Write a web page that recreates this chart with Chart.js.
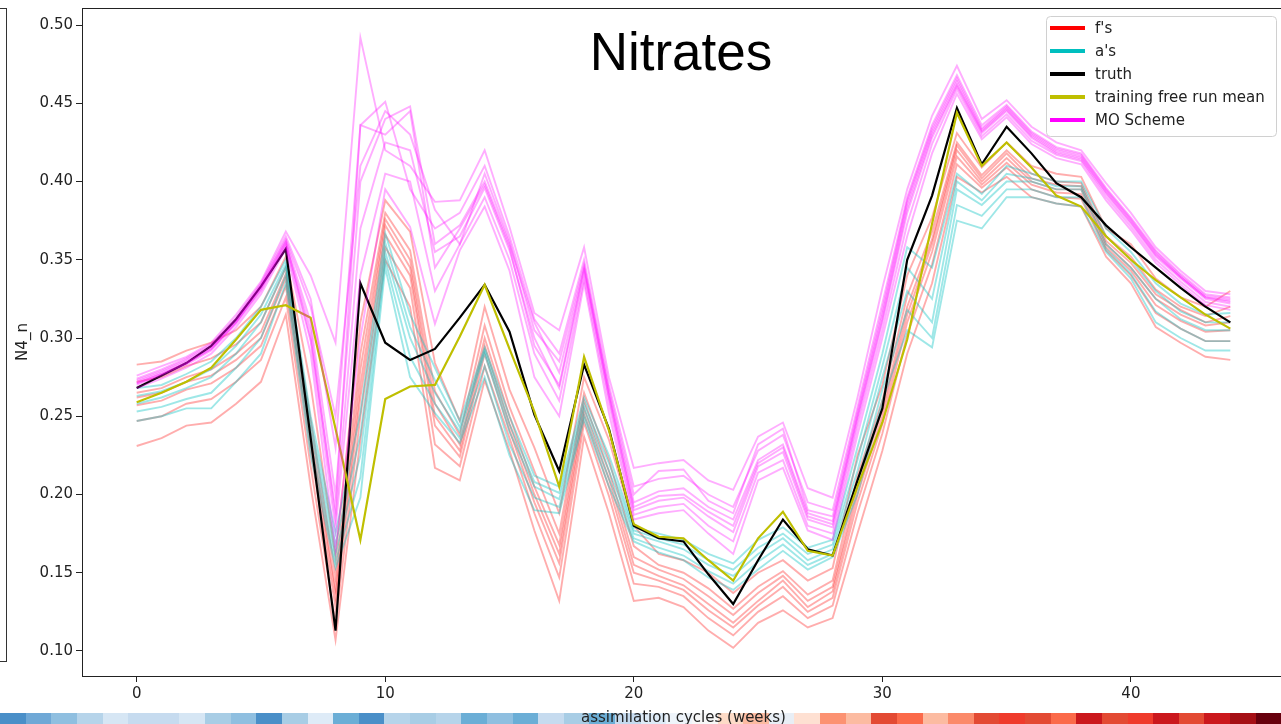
<!DOCTYPE html>
<html>
<head>
<meta charset="utf-8">
<title>Nitrates</title>
<script src="https://cdn.jsdelivr.net/npm/chart.js@4.4.1/dist/chart.umd.min.js"></script>
<style>
  html, body { margin: 0; padding: 0; background: #fff; overflow: hidden; }
  #wrap { position: relative; width: 1281px; height: 724px; overflow: hidden; }
  #strip { position: absolute; left: 0; top: 713px; width: 1281px; height: 11px; display: flex; }
  #strip div { flex: 1; }
  #prevFrame { position: absolute; left: -10px; top: 8px; width: 15px; height: 652px; border: 1px solid #333; }
  #chart { position: absolute; left: 0; top: 0; }
</style>
</head>
<body>
<div id="wrap">
  <div id="strip"></div>
  <div id="prevFrame"></div>
  <canvas id="chart" width="1300" height="724"></canvas>
</div>
<script>
// semanas de asimilación
const weeks = [0, 1, 2, 3, 4, 5, 6, 7, 8, 9, 10, 11, 12, 13, 14, 15, 16, 17, 18, 19, 20, 21,
    22, 23, 24, 25, 26, 27, 28, 29, 30, 31, 32, 33, 34, 35, 36, 37, 38, 39, 40, 41, 42, 43, 44];

const xTicks = [0, 10, 20, 30, 40];
const yTicks = [0.10, 0.15, 0.20, 0.25, 0.30, 0.35, 0.40, 0.45, 0.50];

// verdad y media de la corrida libre
const truth = [.268, .276, .284, .295, .312, .333, .357, .236, .113, .335, .297, .286, .293, .313, .334,
    .304, .251, .215, .283, .242, .180, .172, .170, .149, .130, .158, .184, .165, .161, .209, .255, .350,
    .391, .447, .411, .435, .418, .399, .390, .372, .358, .345, .332, .320, .310];
const freeRunMean = [.259, .265, .272, .281, .299, .318, .321, .313, .242, .171, .261, .269, .270, .301, .334,
    .293, .253, .205, .288, .241, .181, .173, .172, .158, .145, .172, .189, .164, .161, .205, .246, .299,
    .373, .444, .410, .425, .409, .391, .384, .365, .350, .337, .326, .315, .306];

// pronósticos (f's)
const fs1 = [.283, .285, .292, .297, .305, .320, .352, .270, .160, .310, .388, .368, .284, .247, .320, .267, .230, .188, .275, .235, .180, .162, .158, .150, .137, .150, .158, .145, .153, .225, .270, .340, .377, .431, .409, .425, .410, .405, .403, .370, .360, .338, .326, .320, .330];
const fs2 = [.272, .275, .282, .287, .296, .310, .345, .248, .148, .290, .380, .356, .266, .238, .308, .256, .215, .175, .265, .222, .167, .155, .150, .140, .127, .141, .151, .136, .145, .212, .260, .327, .368, .425, .404, .420, .405, .400, .399, .365, .352, .331, .320, .314, .320];
const fs3 = [.262, .265, .272, .276, .286, .300, .338, .235, .135, .270, .372, .345, .250, .228, .295, .245, .200, .162, .255, .210, .155, .148, .142, .130, .118, .132, .145, .128, .138, .200, .250, .315, .360, .420, .400, .415, .400, .395, .395, .360, .345, .325, .315, .308, .310];
const fs4 = [.257, .260, .267, .271, .281, .295, .333, .228, .128, .262, .366, .340, .244, .224, .290, .241, .195, .156, .251, .205, .150, .145, .139, .126, .115, .129, .141, .125, .134, .195, .245, .310, .355, .416, .398, .412, .398, .393, .392, .358, .343, .321, .311, .304, .305];
const fs5 = [.247, .250, .258, .261, .272, .286, .326, .218, .118, .250, .358, .332, .232, .218, .282, .236, .188, .147, .246, .199, .143, .141, .135, .121, .110, .125, .135, .121, .129, .188, .239, .302, .347, .411, .396, .409, .395, .390, .389, .356, .340, .316, .306, .298, .298];
const fs6 = [.231, .236, .244, .246, .258, .272, .315, .205, .107, .235, .350, .320, .217, .209, .273, .228, .177, .132, .237, .188, .132, .134, .128, .113, .102, .118, .126, .115, .121, .175, .228, .290, .335, .403, .393, .403, .390, .386, .384, .352, .335, .307, .297, .288, .286];
const fs7 = [.265, .268, .275, .280, .290, .304, .341, .240, .140, .280, .376, .350, .258, .232, .300, .250, .205, .168, .260, .215, .160, .152, .146, .135, .123, .137, .148, .132, .141, .205, .254, .320, .363, .423, .402, .418, .402, .398, .397, .362, .348, .328, .318, .310, .314];

// análisis (a's)
const as1 = [.268, .270, .277, .285, .300, .320, .350, .250, .175, .252, .367, .315, .281, .247, .294, .250, .212, .205, .262, .225, .179, .175, .171, .162, .156, .171, .179, .166, .171, .230, .290, .358, .345, .405, .392, .410, .405, .400, .400, .370, .355, .335, .322, .315, .316];
const as2 = [.263, .266, .272, .280, .295, .315, .347, .245, .168, .238, .361, .307, .273, .243, .292, .245, .208, .201, .258, .220, .177, .172, .168, .158, .152, .166, .175, .162, .168, .222, .282, .345, .325, .400, .388, .405, .402, .397, .397, .365, .350, .330, .317, .310, .310];
const as3 = [.258, .262, .268, .275, .290, .310, .345, .240, .162, .225, .355, .300, .265, .240, .290, .240, .205, .197, .255, .215, .175, .170, .165, .155, .148, .162, .172, .158, .165, .215, .275, .330, .310, .395, .385, .400, .400, .395, .395, .360, .345, .325, .312, .305, .305];
const as4 = [.253, .256, .261, .265, .281, .300, .340, .232, .157, .211, .350, .288, .258, .236, .282, .232, .198, .192, .251, .210, .172, .166, .161, .151, .143, .157, .168, .155, .162, .207, .267, .318, .300, .385, .378, .395, .395, .390, .390, .357, .341, .317, .306, .298, .298];
const as5 = [.247, .250, .255, .255, .272, .290, .335, .225, .153, .198, .345, .275, .252, .233, .275, .225, .190, .188, .248, .205, .170, .163, .158, .147, .139, .152, .164, .152, .160, .200, .260, .305, .294, .375, .370, .390, .390, .386, .384, .355, .338, .310, .300, .292, .292];

// esquema MO
const mo1 = [.276, .282, .288, .297, .315, .336, .368, .340, .297, .492, .420, .410, .387, .388, .420, .371, .316, .305, .358, .275, .217, .220, .222, .209, .203, .237, .246, .204, .198, .262, .332, .395, .442, .474, .440, .452, .435, .425, .420, .399, .380, .358, .343, .330, .328];
const mo2 = [.274, .280, .287, .296, .313, .335, .365, .325, .230, .436, .451, .395, .370, .380, .410, .365, .312, .290, .350, .270, .205, .210, .212, .200, .192, .228, .238, .195, .190, .256, .322, .390, .436, .468, .436, .449, .432, .422, .418, .396, .377, .356, .341, .328, .326];
const mo3 = [.272, .278, .285, .294, .311, .333, .362, .310, .200, .400, .440, .448, .360, .372, .400, .360, .310, .278, .345, .265, .195, .202, .204, .192, .184, .222, .232, .188, .183, .251, .315, .386, .432, .464, .433, .447, .430, .420, .416, .394, .375, .354, .339, .326, .324];
const mo4 = [.271, .277, .284, .293, .310, .331, .360, .305, .185, .370, .425, .420, .355, .365, .396, .356, .300, .268, .342, .262, .190, .196, .198, .186, .176, .218, .227, .184, .179, .247, .310, .380, .428, .461, .431, .445, .428, .418, .414, .392, .373, .352, .338, .325, .322];
const mo5 = [.270, .276, .283, .292, .309, .330, .359, .298, .178, .340, .405, .400, .330, .360, .390, .350, .290, .260, .338, .258, .187, .192, .194, .180, .170, .214, .222, .180, .175, .243, .305, .373, .424, .459, .429, .443, .426, .417, .413, .390, .371, .350, .336, .323, .320];
const mo6 = [.268, .274, .281, .290, .307, .328, .357, .290, .165, .300, .395, .371, .309, .356, .384, .343, .275, .250, .335, .252, .184, .188, .190, .175, .162, .209, .217, .177, .171, .238, .300, .365, .418, .456, .427, .441, .424, .415, .411, .388, .369, .348, .334, .321, .318];
const mo7 = [.273, .279, .286, .295, .312, .334, .363, .320, .250, .410, .445, .430, .382, .360, .405, .362, .305, .285, .347, .267, .200, .215, .216, .196, .188, .232, .242, .190, .186, .253, .318, .388, .434, .466, .434, .448, .431, .421, .417, .395, .376, .355, .340, .327, .325];
const mo8 = [.271, .277, .284, .293, .310, .332, .361, .300, .190, .436, .430, .445, .345, .370, .398, .358, .295, .270, .344, .263, .192, .199, .200, .189, .180, .220, .230, .186, .181, .249, .312, .383, .430, .462, .432, .446, .429, .419, .415, .393, .374, .353, .339, .326, .323];

// colores de la franja inferior (mapa de calor vecino)
const stripColours = ['#4a8fc8', '#6fa8d6', '#8fbfe0', '#b6d4ea', '#d6e6f4', '#c6dbef', '#c6dbef', '#d6e6f4',
    '#a8cde5', '#8fbfe0', '#4a8fc8', '#a8cde5', '#deebf7', '#6baed6', '#4a8fc8', '#b6d4ea', '#a8cde5',
    '#b6d4ea', '#6baed6', '#8fbfe0', '#6baed6', '#c6dbef', '#a8cde5', '#6baed6', '#c6dbef', '#deebf7',
    '#eef4fa', '#f7f7f7', '#fddbc7', '#fcbba1', '#e8eef5', '#fee0d2', '#fc9272', '#fcbba1', '#e34a33',
    '#fb6a4a', '#fcbba1', '#fb8a6a', '#e34a33', '#ef3b2c', '#e34a33', '#fb6a4a', '#cb181d', '#e34a33',
    '#ef3b2c', '#cb181d', '#e34a33', '#cb181d', '#a50f15', '#67000d'];

// grupos de series (orden de la leyenda)
const groups = [
    { label: "f's", color: '#ff0000', line: 'rgba(255, 0, 0, 0.32)', width: 1.9, order: 4, members: [fs1, fs2, fs3, fs4, fs5, fs6, fs7] },
    { label: "a's", color: '#00bfbf', line: 'rgba(0, 191, 191, 0.38)', width: 1.9, order: 3, members: [as1, as2, as3, as4, as5] },
    { label: 'truth', color: '#000000', line: '#000000', width: 2.2, order: 2, members: [truth] },
    { label: 'training free run mean', color: '#bfbf00', line: '#bfbf00', width: 2.2, order: 1, members: [freeRunMean] },
    { label: 'MO Scheme', color: '#ff00ff', line: 'rgba(255, 0, 255, 0.32)', width: 1.9, order: 0, members: [mo1, mo2, mo3, mo4, mo5, mo6, mo7, mo8] }
];

const strip = document.getElementById('strip');
stripColours.forEach(function (c) {
    const cell = document.createElement('div');
    cell.style.background = c;
    strip.appendChild(cell);
});

const datasets = [];
groups.forEach(function (g) {
    g.members.forEach(function (serie) {
        datasets.push({
            label: g.label,
            data: serie.map((v, i) => ({ x: weeks[i], y: v })),
            borderColor: g.line,
            borderWidth: g.width,
            pointRadius: 0,
            tension: 0,
            fill: false,
            order: g.order
        });
    });
});

// marco, título y leyenda
const decorations = {
    id: 'decorations',
    afterDatasetsDraw(chart) {
        const { ctx, chartArea: a } = chart;
        ctx.save();
        ctx.strokeStyle = '#222';
        ctx.lineWidth = 1;
        ctx.strokeRect(a.left + 0.5, a.top + 0.5, a.right - a.left, a.bottom - a.top);
        ctx.restore();
    },
    afterDraw(chart) {
        const ctx = chart.ctx;
        ctx.save();
        ctx.fillStyle = '#000';
        ctx.font = "53px 'Liberation Sans', Arial, sans-serif";
        ctx.textAlign = 'center';
        ctx.textBaseline = 'alphabetic';
        ctx.fillText('Nitrates', 681, 70);

        // caja de la leyenda
        ctx.beginPath();
        ctx.roundRect(1046.5, 16.5, 230, 120, 4);
        ctx.fillStyle = 'rgba(255, 255, 255, 0.8)';
        ctx.fill();
        ctx.strokeStyle = '#d0d0d0';
        ctx.lineWidth = 1;
        ctx.stroke();

        ctx.font = "15px 'DejaVu Sans', sans-serif";
        ctx.textAlign = 'left';
        ctx.textBaseline = 'middle';
        groups.forEach(function (g, i) {
            const y = 28 + i * 23;
            ctx.strokeStyle = g.color;
            ctx.lineWidth = 4;
            ctx.beginPath();
            ctx.moveTo(1050, y);
            ctx.lineTo(1085, y);
            ctx.stroke();
            ctx.fillStyle = '#222';
            ctx.fillText(g.label, 1095, y + 1);
        });
        ctx.restore();
    }
};

Chart.defaults.font.family = "'DejaVu Sans', sans-serif";
Chart.defaults.font.size = 15;
Chart.defaults.color = '#222';

new Chart(document.getElementById('chart').getContext('2d'), {
    type: 'line',
    data: { datasets: datasets },
    options: {
        responsive: false,
        animation: false,
        layout: { padding: { top: 8, right: 15, left: 0, bottom: 0 } },
        plugins: {
            legend: { display: false },
            tooltip: { enabled: false }
        },
        scales: {
            x: {
                type: 'linear',
                min: -2.2,
                max: 46.2,
                afterFit: function (scale) {
                    scale.height = 48;
                    scale.paddingLeft = 0;
                    scale.paddingRight = 0;
                },
                afterBuildTicks: function (scale) { scale.ticks = xTicks.map(v => ({ value: v })); },
                grid: { drawOnChartArea: false, drawTicks: true, tickLength: 6, tickColor: '#222' },
                border: { display: false },
                ticks: { autoSkip: false, maxRotation: 0, padding: 3, callback: v => String(v) },
                title: { display: true, text: 'assimilation cycles (weeks)', padding: { top: 0, bottom: -3 } }
            },
            y: {
                type: 'linear',
                min: 0.084,
                max: 0.5109,
                afterFit: function (scale) {
                    scale.width = 82;
                    scale.paddingTop = 0;
                    scale.paddingBottom = 0;
                },
                afterBuildTicks: function (scale) { scale.ticks = yTicks.map(v => ({ value: v })); },
                grid: { drawOnChartArea: false, drawTicks: true, tickLength: 6, tickColor: '#222' },
                border: { display: false },
                ticks: { autoSkip: false, padding: 3, callback: v => v.toFixed(2) },
                title: { display: true, text: 'N4_n', padding: { top: 14, bottom: 0 } }
            }
        }
    },
    plugins: [decorations]
});
</script>
</body>
</html>
